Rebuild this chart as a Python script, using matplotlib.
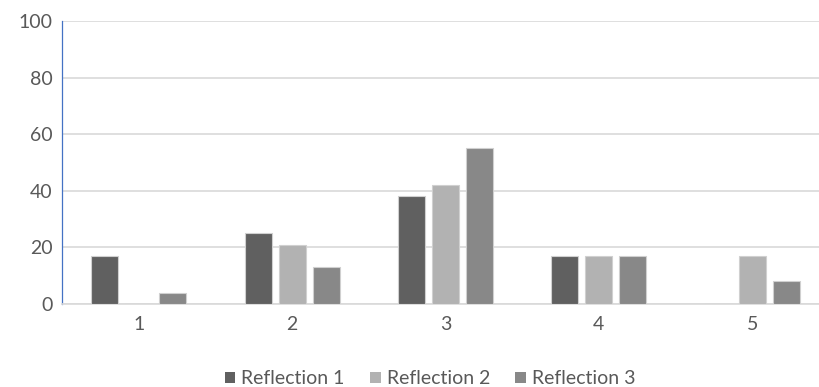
import numpy as np
import matplotlib.pyplot as plt
from matplotlib.patches import Patch

# Chart data
categories = ["1", "2", "3", "4", "5"]
series_names = ["Reflection 1", "Reflection 2", "Reflection 3"]
reflection_1 = [17, 25, 38, 17, 0]
reflection_2 = [0, 21, 42, 17, 17]
reflection_3 = [4, 13, 55, 17, 8]
y_ticks = [0, 20, 40, 60, 80, 100]

colors = ["#606060", "#b2b2b2", "#888888"]
text_color = "#595959"
grid_color = "#d9d9d9"

plt.rcParams["font.family"] = ["Lato", "DejaVu Sans"]

fig = plt.figure(figsize=(8.2, 3.87), dpi=100)
ax = fig.add_axes([62 / 820, 1 - 304 / 387, 767 / 820, 283 / 387])

x = np.arange(1, len(categories) + 1)
width = 0.176
offset = 0.222
for i, (vals, c) in enumerate(zip([reflection_1, reflection_2, reflection_3], colors)):
    ax.bar(x + (i - 1) * offset, vals, width, color=c, edgecolor="#d0d0d0",
           linewidth=0.8, zorder=3)

ax.set_xlim(0.5, 5.5)
ax.set_ylim(0, 100)
ax.set_yticks(y_ticks)
ax.set_xticks(x)
ax.set_xticklabels(categories)
ax.yaxis.grid(True, color=grid_color, linewidth=1.2, zorder=0)
ax.tick_params(axis="both", length=0, colors=text_color, labelsize=14)
ax.tick_params(axis="y", pad=7)
ax.tick_params(axis="x", pad=9)

for s in ["top", "right"]:
    ax.spines[s].set_visible(False)
ax.spines["left"].set_color("#4472c4")
ax.spines["left"].set_linewidth(0.9)
ax.spines["bottom"].set_color(grid_color)
ax.spines["bottom"].set_linewidth(1.2)

handles = [Patch(facecolor=c, edgecolor="none") for c in colors]
fig.legend(handles, series_names, loc="center", bbox_to_anchor=(430 / 820, 1 - 379 / 387),
           ncol=3, frameon=False, fontsize=14, labelcolor=text_color,
           handlelength=0.55, handleheight=0.55, handletextpad=0.3, columnspacing=1.3)

plt.savefig("out.png", dpi=100)
